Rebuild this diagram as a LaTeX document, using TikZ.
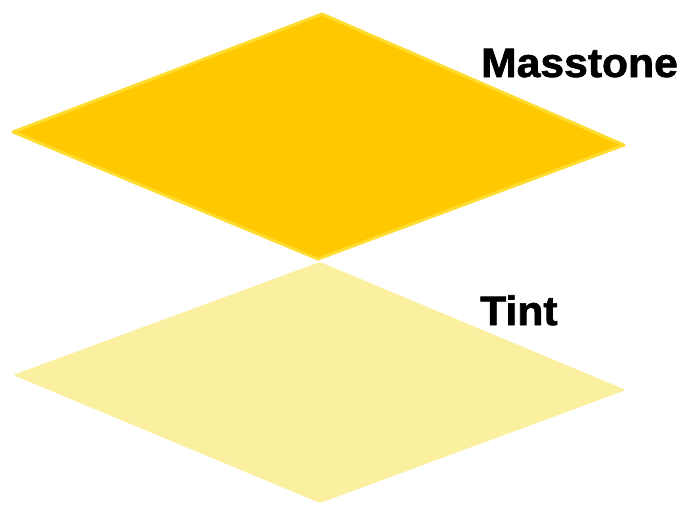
\documentclass[tikz,border=0pt]{standalone}
\usepackage{fontspec}
\setmainfont{Liberation Sans}
\newfontfamily\heavyfont[FakeBold=1.6,FakeStretch=1.04]{Liberation Sans Bold}
\definecolor{massfill}{HTML}{FFC800}
\definecolor{massedge}{HTML}{FFDC30}
\definecolor{tintfill}{HTML}{FBF0A0}
\begin{document}
\begin{tikzpicture}[x=1pt,y=-1pt]
\tikzset{swatch/.style={line width=3pt,line join=round},
  swatchlabel/.style={anchor=base west,inner sep=0pt,font=\fontsize{41}{41}\selectfont\heavyfont}}
\useasboundingbox[fill=white] (0,0) rectangle (680,504);
% tint swatch (below)
\fill[tintfill,rounded corners=3pt] (320,262) -- (626,390) -- (320,503) -- (13,375) -- cycle;
% masstone swatch (above)
\draw[swatch,draw=massedge,fill=massfill] (322,14) -- (624,145) -- (318,259) -- (13,132) -- cycle;
\node[swatchlabel] (masstone) at (481,77) {Masstone};
\node[swatchlabel] (tint) at (480,325) {Tint};
\end{tikzpicture}
\end{document}
